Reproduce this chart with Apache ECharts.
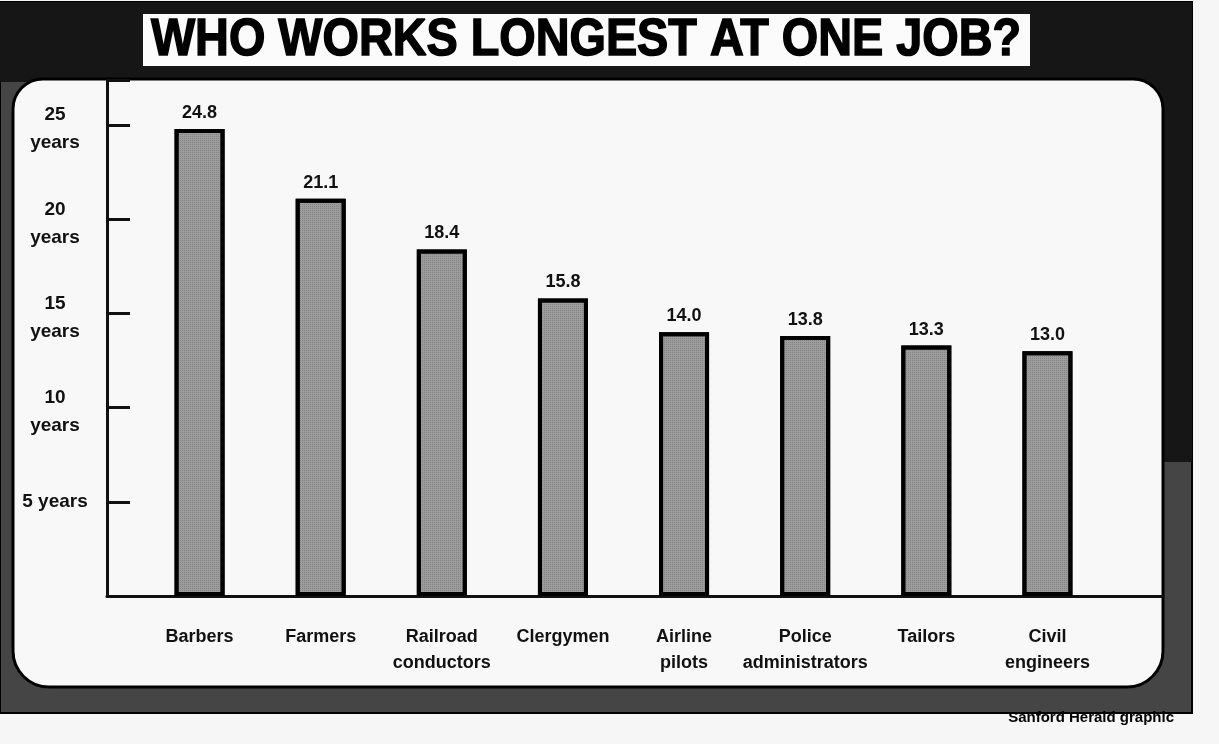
<!DOCTYPE html>
<html lang="en">
<head>
	<meta charset="UTF-8">
	<title>Who works longest at one job?</title>
	<script src="https://cdn.jsdelivr.net/npm/echarts@6/dist/echarts.min.js"></script>
	<style>
		html, body { margin: 0; padding: 0; background: #f6f6f6; }
	</style>
</head>
<body>
	<div id="main" style="width: 1219px; height: 744px;"></div>
	<script>
		// data read from the clipping
		var jobs = ['Barbers', 'Farmers', 'Railroad\nconductors', 'Clergymen', 'Airline\npilots',
			'Police\nadministrators', 'Tailors', 'Civil\nengineers']
		var years = [24.8, 21.1, 18.4, 15.8, 14.0, 13.8, 13.3, 13.0]
		var yearTicks = [5, 10, 15, 20, 25]

		var font = '"Liberation Sans", Arial, Helvetica, sans-serif'
		var ink = '#111'

		// two-line labels, padded so the pair sits a little lower than the tick
		function yearLabel (v) {
			if (yearTicks.indexOf(v) < 0) return ''
			return v === 5 ? '{s|5 years}' : '{n|' + v + '}\n{y|years}'
		}

		var myChart = echarts.init(document.getElementById('main'))

		var option = {
			backgroundColor: '#f6f6f6',
			animation: false,
			textStyle: { fontFamily: font },
			// grid 0: axis frame, grid 1: bars
			grid: [
				{ left: 107, right: 56, top: 80, bottom: 148 },
				{ left: 139, right: 111, top: 80, bottom: 148 }
			],
			xAxis: [
				{
					gridIndex: 0, type: 'value', min: 0, max: 1, z: 5,
					axisLine: { show: true, lineStyle: { color: ink, width: 3 } },
					axisTick: { show: false }, axisLabel: { show: false }, splitLine: { show: false }
				},
				{
					gridIndex: 1, type: 'category', data: jobs, z: 5,
					axisLine: { show: false }, axisTick: { show: false },
					axisLabel: {
						interval: 0, margin: 28, color: ink,
						fontFamily: font, fontWeight: 'bold', fontSize: 18, lineHeight: 26
					}
				}
			],
			yAxis: [
				{
					gridIndex: 0, type: 'value', min: 0, max: 27.4, interval: 5, z: 5,
					axisLine: { show: true, lineStyle: { color: ink, width: 3 } },
					axisTick: { show: true, inside: true, length: 23, lineStyle: { color: ink, width: 3 } },
					axisLabel: {
						formatter: yearLabel, align: 'center', margin: 52, color: ink,
						rich: {
							n: { fontFamily: font, fontWeight: 'bold', fontSize: 19, color: ink,
								lineHeight: 30, padding: [10, 0, 0, 0], align: 'center' },
							y: { fontFamily: font, fontWeight: 'bold', fontSize: 19, color: ink,
								lineHeight: 30, padding: [6, 0, 0, 0], align: 'center' },
							s: { fontFamily: font, fontWeight: 'bold', fontSize: 19, color: ink,
								lineHeight: 30, align: 'center' }
						}
					},
					splitLine: { show: false }
				},
				{
					gridIndex: 1, type: 'value', min: 0, max: 27.4, show: false
				}
			],
			graphic: [
				// dark frame
				{ type: 'rect', z: -10, shape: { x: 0, y: 2, width: 1192, height: 711 },
					style: { fill: '#454545', stroke: '#000', lineWidth: 2 } },
				{ type: 'rect', z: -9, shape: { x: 0, y: 2, width: 1192, height: 80 },
					style: { fill: '#161616' } },
				{ type: 'rect', z: -9, shape: { x: 1150, y: 2, width: 42, height: 460 },
					style: { fill: '#161616' } },
				// title box
				{ type: 'rect', z: -8, shape: { x: 143, y: 14, width: 887, height: 52 },
					style: { fill: '#fbfbfb' } },
				{ type: 'text', z: -7, x: 586, y: 41, scaleX: 0.9, originX: 0, originY: 0,
					style: { text: 'WHO WORKS LONGEST AT ONE JOB?', fill: '#000', stroke: '#000', lineWidth: 1.5,
						font: 'bold 52px ' + font, align: 'center', verticalAlign: 'middle' } },
				// white panel
				{ type: 'rect', z: -8, shape: { x: 13, y: 79, width: 1150, height: 608, r: [30, 30, 36, 36] },
					style: { fill: '#f8f8f8', stroke: '#000', lineWidth: 3 } },
				// credit line
				{ type: 'text', z: -7, x: 1174, y: 718,
					style: { text: 'Sanford Herald graphic', fill: '#000', font: 'bold 15px ' + font,
						align: 'right', verticalAlign: 'middle' } }
			],
			series: [
				{
					type: 'bar', xAxisIndex: 1, yAxisIndex: 1, z: 6,
					data: years, barWidth: 50,
					itemStyle: {
						color: '#9c9c9c', borderColor: '#000', borderWidth: 4,
						decal: { symbol: 'rect', symbolSize: 1, dashArrayX: [1, 1], dashArrayY: [1, 1],
							color: 'rgba(60, 60, 60, 0.25)' }
					},
					label: {
						show: true, position: 'top', distance: 7, color: ink,
						fontFamily: font, fontWeight: 'bold', fontSize: 18,
						formatter: function (p) { return p.value.toFixed(1) }
					}
				}
			]
		}

		myChart.setOption(option)
	</script>
</body>
</html>
